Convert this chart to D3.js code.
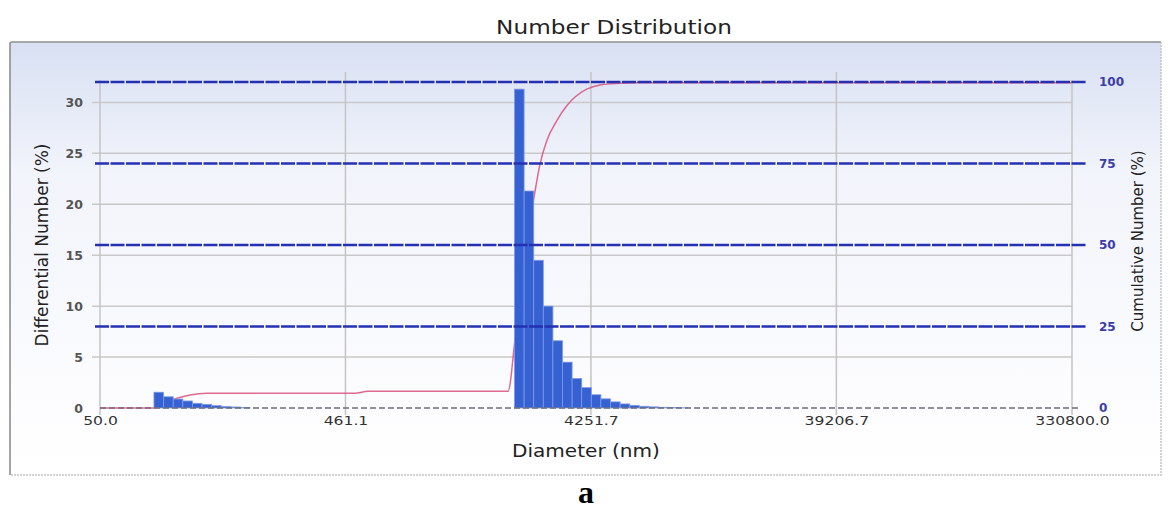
<!DOCTYPE html>
<html lang="en">
<head>
<meta charset="UTF-8">
<title>Number Distribution</title>
<script src="https://cdn.jsdelivr.net/npm/d3@7"></script>
<style>
  body { margin: 0; background: #fff; }
  text { font-family: "DejaVu Sans", Verdana, sans-serif; }
</style>
</head>
<body>
<svg id="chart" width="1172" height="509"></svg>
<script>
// bin centre diameters (nm) and differential number (%)
var smallDiam = [85.1, 92.9, 101.3, 110.5, 120.5, 131.5, 143.4, 156.4, 170.6, 186.1];
var smallVal = [1.55, 1.1, 0.88, 0.69, 0.46, 0.36, 0.23, 0.15, 0.1, 0.06];
var mainDiam = [2224, 2426, 2646, 2886, 3148, 3434, 3746, 4086, 4456, 4861, 5302, 5783, 6308, 6881, 7506, 8187, 8930, 9741];
var mainVal = [31.3, 21.3, 14.5, 10.0, 6.6, 4.5, 2.9, 2.0, 1.3, 0.9, 0.6, 0.4, 0.26, 0.17, 0.11, 0.07, 0.04, 0.02];
var binStep = 1.0908;

// cumulative number curve (%)
var cumDiam = [50, 78.6, 80.8, 90.0, 100.4, 112.9, 131.7, 502.7, 565.5, 2008, 2139, 2279, 2406, 2524, 2682, 2849, 3120, 3416, 4093, 4617, 5531, 6500, 330800];
var cumVal = [0, 0, 0, 1.6, 3.0, 4.0, 4.5, 4.5, 5.1, 5.1, 21, 40, 55, 63.5, 74.8, 81.9, 88.1, 92.7, 97.8, 99.1, 99.6, 99.8, 99.8];

var xTicks = [50, 461.1, 4251.7, 39206.7, 330800];
var leftTicks = [0, 5, 10, 15, 20, 25, 30];
var rightTicks = [0, 25, 50, 75, 100];

var svg = d3.select("#chart");
var pLeft = 100, pRight = 1072, pTop = 82, pBottom = 408;
var stretch = 1.22; // the reference is a bit wide horizontally

var x = d3.scaleLog().domain([50, 330800]).range([pLeft, pRight]);
var y = d3.scaleLinear().domain([0, 32]).range([pBottom, pTop]);
var y2 = d3.scaleLinear().domain([0, 100]).range([pBottom, pTop]);

function widen(sel, k) {
  sel.each(function () {
    var w = this.getComputedTextLength();
    d3.select(this).attr("textLength", w * k).attr("lengthAdjust", "spacingAndGlyphs");
  });
}

// panel background
var grad = svg.append("defs").append("linearGradient").attr("id", "bg")
  .attr("x1", 0).attr("y1", 0).attr("x2", 0).attr("y2", 1);
grad.append("stop").attr("offset", "0").attr("stop-color", "#d8e0f3");
grad.append("stop").attr("offset", "0.3").attr("stop-color", "#f2f4fb");
grad.append("stop").attr("offset", "1").attr("stop-color", "#ffffff");

svg.append("rect").attr("x", 10).attr("y", 42).attr("width", 1151).attr("height", 433)
  .attr("fill", "url(#bg)");
svg.append("path").attr("d", "M10,475 V44 Q10,42 12,42 H1161")
  .attr("fill", "none").attr("stroke", "#8e8e8e").attr("stroke-width", 1.6);
svg.append("path").attr("d", "M1161,42 V475 H10")
  .attr("fill", "none").attr("stroke", "#c4c4c4").attr("stroke-width", 1.5)
  .attr("stroke-dasharray", "2,1");

// title and labels
svg.append("text").attr("x", 614).attr("y", 34).attr("text-anchor", "middle")
  .attr("font-size", 19).attr("fill", "#222").text("Number Distribution")
  .call(widen, stretch);
svg.append("text").attr("transform", "translate(48,245) rotate(-90)").attr("text-anchor", "middle")
  .attr("font-size", 17).attr("fill", "#222").text("Differential Number (%)");
svg.append("text").attr("transform", "translate(1143,241) rotate(-90)").attr("text-anchor", "middle")
  .attr("font-size", 15).attr("fill", "#222").text("Cumulative Number (%)");
svg.append("text").attr("x", 586).attr("y", 457).attr("text-anchor", "middle")
  .attr("font-size", 17).attr("fill", "#222").text("Diameter (nm)")
  .call(widen, 1.18);
svg.append("text").attr("x", 586).attr("y", 503).attr("text-anchor", "middle")
  .attr("font-size", 32).attr("font-weight", "bold").attr("fill", "#000")
  .style("font-family", "'Liberation Serif', 'Times New Roman', serif").text("a");

// grid
svg.append("g").selectAll("line").data(leftTicks.slice(1)).enter().append("line")
  .attr("x1", 92).attr("x2", pRight).attr("y1", function (d) { return y(d); })
  .attr("y2", function (d) { return y(d); })
  .attr("stroke", "#c9c9c9").attr("stroke-width", 1.5);
svg.append("g").selectAll("line").data(xTicks).enter().append("line")
  .attr("x1", function (d) { return x(d); }).attr("x2", function (d) { return x(d); })
  .attr("y1", function (d, i) { return (i === 0 || i === 4) ? 80 : 72; }).attr("y2", 415)
  .attr("stroke", "#c4c4c4").attr("stroke-width", 1.5);

// axes (labels only)
var gx = svg.append("g").attr("transform", "translate(0," + (pBottom + 3) + ")")
  .call(d3.axisBottom(x).tickValues(xTicks).tickFormat(d3.format(".1f")).tickSize(0).tickPadding(5));
gx.select(".domain").remove();
gx.selectAll("text").attr("font-size", 13).attr("fill", "#333")
  .style("font-family", "'DejaVu Sans', Verdana, sans-serif").call(widen, 1.2);

var gl = svg.append("g").attr("transform", "translate(" + (pLeft - 17) + ",0)")
  .call(d3.axisLeft(y).tickValues(leftTicks).tickSize(0).tickPadding(0));
gl.select(".domain").remove();
gl.selectAll("text").attr("font-size", 12.5).attr("font-weight", "bold").attr("fill", "#555")
  .style("font-family", "'DejaVu Sans', Verdana, sans-serif");

var gr = svg.append("g").attr("transform", "translate(" + (pRight + 27) + ",0)")
  .call(d3.axisRight(y2).tickValues(rightTicks).tickSize(0).tickPadding(0));
gr.select(".domain").remove();
gr.selectAll("text").attr("font-size", 12).attr("font-weight", "bold").attr("fill", "#3b3bb0")
  .style("font-family", "'DejaVu Sans', Verdana, sans-serif");

// cumulative curve (behind the bars)
var line = d3.line()
  .x(function (d, i) { return x(cumDiam[i]); })
  .y(function (d) { return y2(d); })
  .curve(d3.curveMonotoneX);
svg.append("path").attr("d", line(cumVal))
  .attr("fill", "none").attr("stroke", "#d8507c").attr("stroke-width", 1.5).attr("stroke-opacity", 0.85);

// bars
function drawBars(diam, vals) {
  svg.append("g").selectAll("rect").data(vals).enter().append("rect")
    .attr("x", function (d, i) { return x(diam[i] / Math.sqrt(binStep)); })
    .attr("width", function (d, i) { return x(diam[i] * Math.sqrt(binStep)) - x(diam[i] / Math.sqrt(binStep)); })
    .attr("y", function (d) { return y(d); })
    .attr("height", function (d) { return pBottom - y(d); })
    .attr("fill", "#3561d2").attr("stroke", "#7f9ae6").attr("stroke-width", 0.8);
}
drawBars(smallDiam, smallVal);
drawBars(mainDiam, mainVal);

// baseline
svg.append("line").attr("x1", pLeft).attr("x2", pRight + 8).attr("y1", pBottom).attr("y2", pBottom)
  .attr("stroke", "#6c6c78").attr("stroke-width", 1.3).attr("stroke-dasharray", "6,3");

// blue cumulative reference lines, over the bars
svg.append("g").selectAll("line").data(rightTicks.slice(1)).enter().append("line")
  .attr("x1", 95).attr("x2", pRight + 14)
  .attr("y1", function (d) { return y2(d); }).attr("y2", function (d) { return y2(d); })
  .attr("stroke", "#2530b2").attr("stroke-width", 2.4).attr("stroke-dasharray", "14,1.5");
</script>
</body>
</html>
